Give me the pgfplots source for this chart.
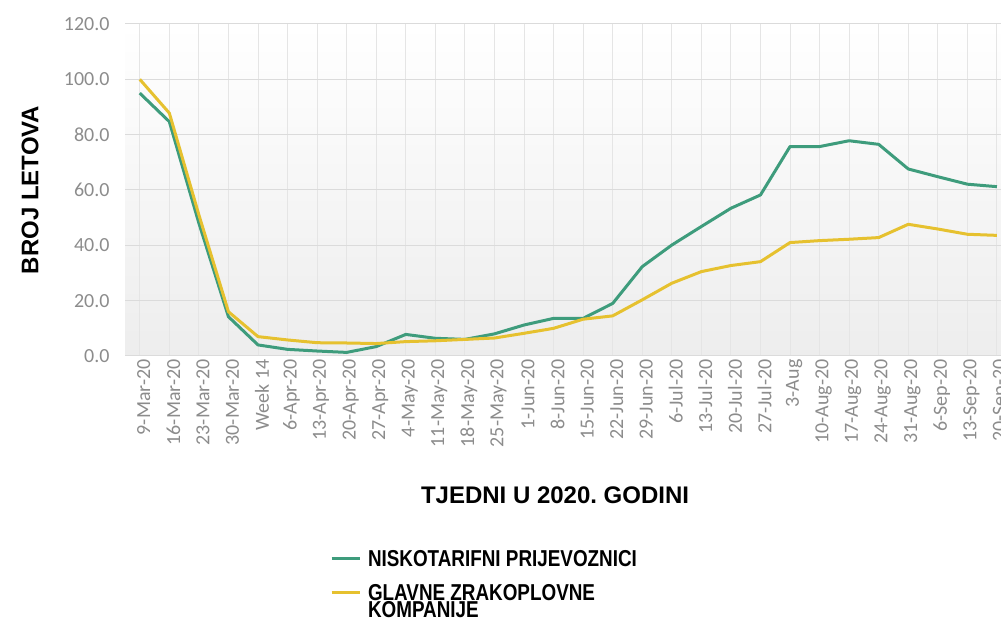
\documentclass[border=0pt]{standalone}
\usepackage{fontspec}
\setmainfont{Carlito}
\newfontfamily\titlefont{Liberation Sans}
\newfontfamily\legendfont[FakeStretch=0.82]{Liberation Sans}
\usepackage{pgfplots}
\pgfplotsset{compat=1.18}
\definecolor{lcgreen}{RGB}{62,156,124}
\definecolor{mjyellow}{RGB}{230,193,47}
\definecolor{ticktext}{RGB}{140,140,140}
\frenchspacing
\begin{document}
\begin{tikzpicture}
\path[use as bounding box] (0pt,0pt) rectangle (1001pt,618pt);
\clip (0pt,0pt) rectangle (1001pt,618pt);
\begin{axis}[
  at={(125pt,262pt)}, anchor=south west,
  scale only axis, width=886.7pt, height=332pt,
  xmin=-0.5, xmax=29.5, ymin=0, ymax=120,
  axis line style={draw=none},
  major tick length=0pt,
  axis background/.style={shade, top color=white, bottom color=black!7},
  xtick={0,...,29},
  xticklabels={9-Mar-20,16-Mar-20,23-Mar-20,30-Mar-20,Week 14,6-Apr-20,13-Apr-20,20-Apr-20,27-Apr-20,4-May-20,11-May-20,18-May-20,25-May-20,1-Jun-20,8-Jun-20,15-Jun-20,22-Jun-20,29-Jun-20,6-Jul-20,13-Jul-20,20-Jul-20,27-Jul-20,3-Aug,10-Aug-20,17-Aug-20,24-Aug-20,31-Aug-20,6-Sep-20,13-Sep-20,20-Sep-20},
  ytick={0,20,...,120},
  /pgf/number format/fixed,
  /pgf/number format/fixed zerofill,
  /pgf/number format/precision=1,
  /pgf/number format/assume math mode=true,
  y tick label style={font=\fontsize{20}{22}\selectfont, text=ticktext, xshift=-12pt},
  x tick label style={font=\fontsize{20}{22}\selectfont, text=ticktext, rotate=90, anchor=east, yshift=-4pt},
  xmajorgrids, ymajorgrids,
  x grid style={draw=black!10, line width=1pt},
  y grid style={draw=black!14, line width=1pt},
  xlabel={TJEDNI U 2020. GODINI},
  xlabel style={at={(axis description cs:0.485,-0.4187)}, anchor=center, font=\titlefont\bfseries\fontsize{24}{26}\selectfont},
  ylabel={BROJ LETOVA},
  ylabel style={at={(axis description cs:-0.1071,0.5)}, anchor=center, font=\titlefont\bfseries\fontsize{24}{26}\selectfont},
  legend style={at={(axis description cs:0.2312,-0.5843)}, anchor=north west, draw=none, fill=none, inner sep=0pt, outer sep=0pt,
    font=\legendfont\bfseries\fontsize{23}{18}\selectfont, row sep=16.5pt, column sep=7pt,
    nodes={inner sep=0pt}},
  legend cell align=left,
  legend image code/.code={\draw[#1, line width=3pt] (0pt,0pt) -- (28pt,0pt);},
]
\addplot[color=lcgreen, line width=3pt, line join=round] coordinates {
(0,95.0) (1,84.7) (2,48) (3,14.2) (4,4.0) (5,2.4) (6,1.8) (7,1.3) (8,3.4) (9,7.8)
(10,6.4) (11,6.0) (12,8.0) (13,11.2) (14,13.6) (15,13.6) (16,19.0) (17,32.3) (18,40.1) (19,46.8)
(20,53.4) (21,58.2) (22,75.7) (23,75.7) (24,77.8) (25,76.5) (26,67.6) (27,64.8) (28,62.1) (29,61.2)};
\addlegendentry{NISKOTARIFNI PRIJEVOZNICI}
\addplot[color=mjyellow, line width=3pt, line join=round] coordinates {
(0,100.0) (1,87.8) (2,51) (3,16.0) (4,7.0) (5,5.8) (6,4.8) (7,4.7) (8,4.5) (9,5.2)
(10,5.5) (11,6.0) (12,6.5) (13,8.2) (14,10.0) (15,13.3) (16,14.5) (17,20.3) (18,26.3) (19,30.5)
(20,32.7) (21,34.1) (22,41.0) (23,41.7) (24,42.2) (25,42.8) (26,47.6) (27,45.9) (28,44.0) (29,43.6)};
\addlegendentry{\raisebox{0pt}[\height][0pt]{\parbox[t]{12cm}{\baselineskip=17pt GLAVNE ZRAKOPLOVNE\\KOMPANIJE}}}
\end{axis}
\end{tikzpicture}
\end{document}
